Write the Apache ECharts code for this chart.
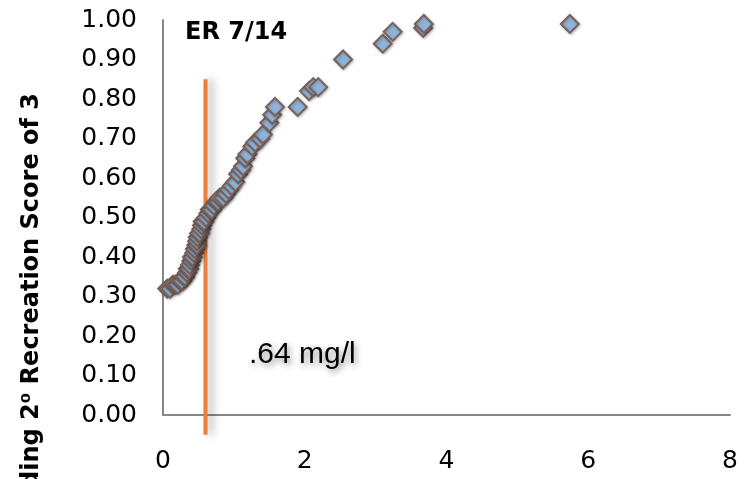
<!DOCTYPE html>
<html>
<head>
<meta charset="utf-8">
<script src="https://cdn.jsdelivr.net/npm/echarts@6/dist/echarts.min.js"></script>
<style>
  html, body { margin: 0; padding: 0; background: #fff; }
  #grafico { width: 744px; height: 479px; }
</style>
</head>
<body>
<div id="grafico"></div>
<script>
    // dados
    var xValues = [0.06, 0.10, 0.14, 0.18, 0.21, 0.24, 0.27, 0.30, 0.31, 0.34,
                   0.35, 0.37, 0.38, 0.40, 0.41, 0.42, 0.44, 0.45, 0.47, 0.48,
                   0.48, 0.49, 0.51, 0.52, 0.54, 0.55, 0.56, 0.58, 0.61, 0.64,
                   0.66, 0.69, 0.72, 0.75, 0.78, 0.80, 0.85, 0.89, 0.93, 0.97,
                   1.02, 1.06, 1.10, 1.13, 1.16, 1.19, 1.26, 1.30, 1.37, 1.41,
                   1.50, 1.54, 1.58, 1.90, 2.06, 2.12, 2.19, 2.54, 3.10, 3.24,
                   3.67, 3.68, 5.74];
    var yValues = [0.32, 0.32, 0.33, 0.33, 0.33, 0.34, 0.34, 0.35, 0.35, 0.36,
                   0.37, 0.37, 0.38, 0.39, 0.40, 0.40, 0.41, 0.42, 0.43, 0.43,
                   0.44, 0.45, 0.46, 0.46, 0.47, 0.48, 0.49, 0.49, 0.50, 0.51,
                   0.52, 0.52, 0.53, 0.54, 0.54, 0.55, 0.55, 0.56, 0.57, 0.58,
                   0.59, 0.61, 0.62, 0.63, 0.65, 0.66, 0.68, 0.69, 0.70, 0.71,
                   0.74, 0.76, 0.78, 0.78, 0.82, 0.83, 0.83, 0.90, 0.94, 0.97,
                   0.98, 0.99, 0.99];
    var yTicks = [0, 0.1, 0.2, 0.3, 0.4, 0.5, 0.6, 0.7, 0.8, 0.9, 1.0];
    var xTicks = [0, 2, 4, 6, 8];
    var limiteX = 0.6;
    var limiteY = [-0.05, 0.85];
    var tituloTexto = 'ER 7/14';
    var limiteTexto = '.64 mg/l';
    var eixoYNome = 'Probability of Exceeding 2\u2070 Recreation Score of 3';

    var pontos = xValues.map(function (x, i) { return [x, yValues[i]]; });

    var myChart = echarts.init(document.getElementById('grafico'));

    var option = {
        animation: false,
        grid: { left: 163, right: 14, top: 20, bottom: 64 },
        xAxis: {
            type: 'value',
            min: xTicks[0],
            max: xTicks[xTicks.length - 1],
            interval: xTicks[1] - xTicks[0],
            axisLine: { lineStyle: { color: '#878787', width: 2 } },
            axisTick: { show: false },
            splitLine: { show: false },
            axisLabel: { color: '#000', fontFamily: 'DejaVu Sans', fontSize: 25, margin: 34 }
        },
        yAxis: {
            type: 'value',
            min: yTicks[0],
            max: yTicks[yTicks.length - 1],
            interval: 0.1,
            axisLine: { show: true, lineStyle: { color: '#878787', width: 2 } },
            axisTick: { show: false },
            splitLine: { show: false },
            axisLabel: {
                color: '#000', fontFamily: 'DejaVu Sans', fontSize: 25, margin: 26,
                formatter: function (v) { return v.toFixed(2); }
            }
        },
        graphic: [
            {
                type: 'text', left: 185, top: 21,
                style: { text: tituloTexto, fontFamily: 'DejaVu Sans', fontWeight: 'bold', fontSize: 24, fill: '#000' }
            },
            {
                type: 'text', left: 249, top: 340,
                style: {
                    text: limiteTexto, fontFamily: 'Liberation Sans', fontSize: 30, fill: '#000',
                    textShadowColor: 'rgba(0,0,0,0.45)', textShadowBlur: 6, textShadowOffsetX: 2, textShadowOffsetY: 3
                }
            },
            {
                type: 'text', x: 32, y: 93, rotation: Math.PI / 2,
                style: {
                    text: eixoYNome, fontFamily: 'DejaVu Sans', fontWeight: 'bold', fontSize: 24, fill: '#000',
                    align: 'right', verticalAlign: 'middle'
                }
            }
        ],
        series: [
            {
                name: 'limite',
                type: 'line',
                clip: false,
                symbol: 'none',
                z: 1,
                data: [[limiteX, limiteY[0]], [limiteX, limiteY[1]]],
                lineStyle: {
                    color: '#e8813f', width: 4,
                    shadowColor: 'rgba(0,0,0,0.35)', shadowBlur: 8, shadowOffsetX: 5, shadowOffsetY: 0
                }
            },
            {
                name: 'pontos',
                type: 'scatter',
                z: 2,
                symbol: 'diamond',
                symbolSize: 18,
                data: pontos,
                itemStyle: {
                    color: '#8fb4d9',
                    borderColor: '#7a6058',
                    borderWidth: 2,
                    opacity: 1,
                    shadowColor: 'rgba(0,0,0,0.25)', shadowBlur: 3, shadowOffsetX: 1, shadowOffsetY: 1
                }
            }
        ]
    };

    myChart.setOption(option);
</script>
</body>
</html>
